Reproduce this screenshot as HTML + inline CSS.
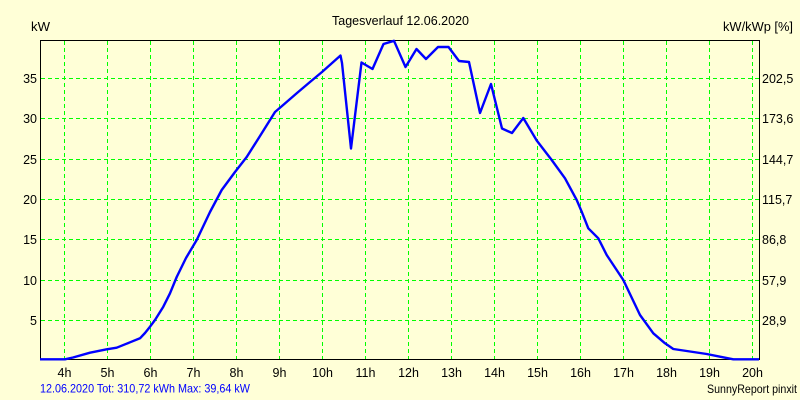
<!DOCTYPE html>
<html>
<head>
<meta charset="utf-8">
<style>
html,body{margin:0;padding:0;background:#FFFFD7;}
svg{display:block;}
text{font-family:"Liberation Sans",Arial,sans-serif;}
</style>
</head>
<body>
<svg width="800" height="400" viewBox="0 0 800 400" xmlns="http://www.w3.org/2000/svg">
<rect x="0" y="0" width="800" height="400" fill="#FFFFD7"/>

<!-- grid -->
<g stroke="#00FF00" stroke-width="1" stroke-dasharray="4,3" fill="none">
  <line x1="64.5" y1="41" x2="64.5" y2="359"/>
  <line x1="107.5" y1="41" x2="107.5" y2="359"/>
  <line x1="150.5" y1="41" x2="150.5" y2="359"/>
  <line x1="193.5" y1="41" x2="193.5" y2="359"/>
  <line x1="236.5" y1="41" x2="236.5" y2="359"/>
  <line x1="279.5" y1="41" x2="279.5" y2="359"/>
  <line x1="322.5" y1="41" x2="322.5" y2="359"/>
  <line x1="365.5" y1="41" x2="365.5" y2="359"/>
  <line x1="408.5" y1="41" x2="408.5" y2="359"/>
  <line x1="451.5" y1="41" x2="451.5" y2="359"/>
  <line x1="494.5" y1="41" x2="494.5" y2="359"/>
  <line x1="537.5" y1="41" x2="537.5" y2="359"/>
  <line x1="580.5" y1="41" x2="580.5" y2="359"/>
  <line x1="623.5" y1="41" x2="623.5" y2="359"/>
  <line x1="666.5" y1="41" x2="666.5" y2="359"/>
  <line x1="709.5" y1="41" x2="709.5" y2="359"/>
  <line x1="752.5" y1="41" x2="752.5" y2="359"/>

  <line x1="41" y1="78.5" x2="759" y2="78.5"/>
  <line x1="41" y1="118.5" x2="759" y2="118.5"/>
  <line x1="41" y1="159.5" x2="759" y2="159.5"/>
  <line x1="41" y1="199.5" x2="759" y2="199.5"/>
  <line x1="41" y1="239.5" x2="759" y2="239.5"/>
  <line x1="41" y1="280.5" x2="759" y2="280.5"/>
  <line x1="41" y1="320.5" x2="759" y2="320.5"/>
</g>

<!-- frame -->
<rect x="40.5" y="40.5" width="719" height="319" fill="none" stroke="#000" stroke-width="1"/>

<!-- curve -->
<polyline fill="none" stroke="#0000FF" stroke-width="2.4" stroke-linejoin="round"
points="40,359.3 65,359.3 73,357.5 90,352.7 106.7,349.3 116.7,347.7 130,342.3 140,338.3 145,333 150,326.7 155,320 163.3,306.7 170,293.3 176.7,277 186,258 196.7,240 210,212 221.7,190 235,172 246.7,157 260,136 275,112 282,106 297,93 310,82 322,72 340.5,55.5 342,63 351,148.5 361.5,62.5 372.5,69 383.5,44 394,40.8 405.5,67 416.5,49 426,59 438,47 448.5,47 459,61 469,62 480,113 491,84 502,128.5 512,133 523.3,118 536.7,140.5 551.7,160 565,178.3 576.7,200 581.7,211.7 588.3,228.3 598.3,238.3 606.7,255 623.3,280 640,315 653.3,333.3 665,343.3 673.3,349 686.7,351 706.7,354 720,356.7 733.3,359.3 759,359.3"/>

<!-- titles -->
<text x="332" y="25" font-size="12.5" fill="#000" textLength="137" lengthAdjust="spacingAndGlyphs">Tagesverlauf 12.06.2020</text>
<text x="31" y="31" font-size="13" fill="#000" textLength="19" lengthAdjust="spacingAndGlyphs">kW</text>
<text x="723" y="31" font-size="13" fill="#000" textLength="70" lengthAdjust="spacingAndGlyphs">kW/kWp [%]</text>

<!-- left tick labels -->
<g font-size="12.5" fill="#000" text-anchor="end">
  <text x="37" y="83">35</text>
  <text x="37" y="123">30</text>
  <text x="37" y="164">25</text>
  <text x="37" y="204">20</text>
  <text x="37" y="244">15</text>
  <text x="37" y="285">10</text>
  <text x="37" y="325">5</text>
</g>

<!-- right tick labels -->
<g font-size="12.5" fill="#000">
  <text x="762" y="83">202,5</text>
  <text x="762" y="123">173,6</text>
  <text x="762" y="164">144,7</text>
  <text x="762" y="204">115,7</text>
  <text x="762" y="244">86,8</text>
  <text x="762" y="285">57,9</text>
  <text x="762" y="325">28,9</text>
</g>

<!-- bottom tick labels -->
<g font-size="12.5" fill="#000" text-anchor="middle">
  <text x="64.5" y="377">4h</text>
  <text x="107.5" y="377">5h</text>
  <text x="150.5" y="377">6h</text>
  <text x="193.5" y="377">7h</text>
  <text x="236.5" y="377">8h</text>
  <text x="279.5" y="377">9h</text>
  <text x="322.5" y="377">10h</text>
  <text x="365.5" y="377">11h</text>
  <text x="408.5" y="377">12h</text>
  <text x="451.5" y="377">13h</text>
  <text x="494.5" y="377">14h</text>
  <text x="537.5" y="377">15h</text>
  <text x="580.5" y="377">16h</text>
  <text x="623.5" y="377">17h</text>
  <text x="666.5" y="377">18h</text>
  <text x="709.5" y="377">19h</text>
  <text x="752.5" y="377">20h</text>
</g>

<!-- footer -->
<text x="40" y="392.5" font-size="12" fill="#0000FF" textLength="210" lengthAdjust="spacingAndGlyphs">12.06.2020 Tot: 310,72 kWh Max: 39,64 kW</text>
<text x="707" y="393" font-size="12" fill="#000" textLength="90" lengthAdjust="spacingAndGlyphs">SunnyReport pinxit</text>
</svg>
</body>
</html>
